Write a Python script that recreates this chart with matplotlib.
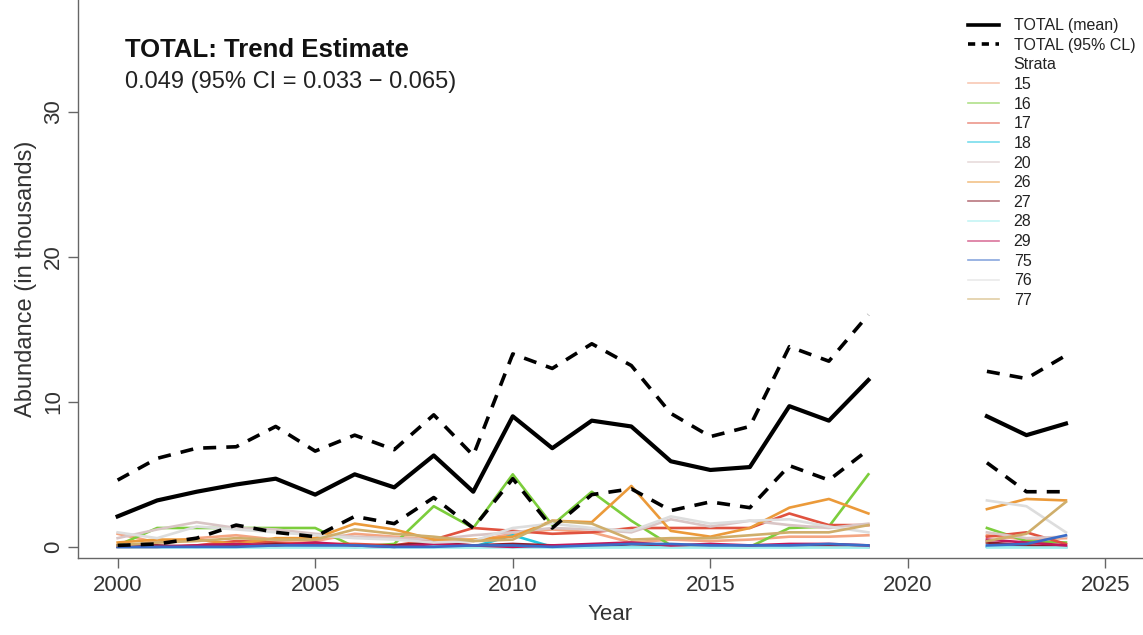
import numpy as np
import matplotlib
matplotlib.use("Agg")
import matplotlib.pyplot as plt
from matplotlib.lines import Line2D

plt.rcParams['font.family'] = ['Liberation Sans', 'DejaVu Sans']

nan = np.nan
years = list(range(2000, 2025))

# TOTAL abundance (thousands); no surveys in 2020-2021
total_mean = [2.1, 3.2, 3.8, 4.3, 4.7, 3.6, 5.0, 4.1, 6.3, 3.8, 9.0, 6.8, 8.7, 8.3, 5.9,
              5.3, 5.5, 9.7, 8.7, 11.5, nan, nan, 9.0, 7.7, 8.5]
total_upper = [4.6, 6.1, 6.8, 6.9, 8.3, 6.6, 7.7, 6.7, 9.1, 6.3, 13.3, 12.3, 14.0, 12.5, 9.2,
               7.6, 8.3, 13.8, 12.8, 16.0, nan, nan, 12.1, 11.6, 13.2]
total_lower = [0.1, 0.2, 0.6, 1.5, 1.0, 0.7, 2.1, 1.6, 3.4, 1.3, 4.7, 1.3, 3.6, 4.0, 2.5,
               3.1, 2.7, 5.6, 4.6, 6.7, nan, nan, 5.8, 3.8, 3.8]

strata_names = ['15', '16', '17', '18', '20', '26', '27', '28', '29', '75', '76', '77']
strata_colors = ['#F4A582', '#7CCD3C', '#E0523F', '#1FC7E0', '#D9C5C5', '#EB9A3A',
                 '#8B1C2B', '#9FEFEF', '#C2185B', '#3A6CC8', '#DDDDDD', '#CFAE6B']

s15 = [0.9, 0.3, 0.6, 0.8, 0.5, 0.4, 0.9, 0.7, 0.5, 0.4, 0.9, 1.2, 1.0, 0.3, 0.5,
       0.4, 0.5, 0.7, 0.7, 0.8, nan, nan, 0.8, 0.5, 0.6]
s16 = [0.1, 1.3, 1.3, 1.3, 1.3, 1.3, 0.0, 0.2, 2.8, 1.3, 5.0, 1.5, 3.8, 1.8, 0.1,
       0.0, 0.0, 1.3, 1.4, 5.0, nan, nan, 1.3, 0.4, 0.3]
s17 = [0.0, 0.0, 0.1, 0.4, 0.3, 0.2, 0.2, 0.1, 0.5, 1.3, 1.1, 0.9, 1.0, 1.3, 1.3,
       1.3, 1.3, 2.3, 1.5, 1.5, nan, nan, 0.7, 1.0, 0.2]
s18 = [0.0, 0.0, 0.0, 0.0, 0.0, 0.0, 0.0, 0.0, 0.0, 0.0, 0.8, 0.0, 0.0, 0.0, 0.0,
       0.0, 0.0, 0.0, 0.0, 0.0, nan, nan, 0.0, 0.0, 0.0]
s20 = [0.6, 1.2, 1.7, 1.3, 1.2, 0.9, 0.7, 0.6, 0.5, 0.8, 1.0, 1.3, 1.2, 1.0, 1.9,
       1.4, 1.8, 1.5, 1.3, 1.6, nan, nan, 1.0, 0.6, 0.7]
s26 = [0.3, 0.5, 0.5, 0.2, 0.6, 0.6, 1.6, 1.2, 0.5, 0.5, 0.7, 1.8, 1.7, 4.2, 1.1,
       0.7, 1.3, 2.7, 3.3, 2.3, nan, nan, 2.6, 3.3, 3.2]
s27 = [0.1, 0.1, 0.0, 0.1, 0.2, 0.1, 0.0, 0.1, 0.3, 0.1, 0.2, 0.1, 0.0, 0.2, 0.1,
       0.0, 0.1, 0.1, 0.1, 0.0, nan, nan, 0.3, 0.1, 0.0]
s28 = [0.0, 0.0, 0.0, 0.0, 0.0, 0.0, 0.0, 0.0, 0.0, 0.0, 0.0, 0.0, 0.0, 0.0, 0.0,
       0.0, 0.0, 0.0, 0.0, 0.0, nan, nan, 0.0, 0.0, 0.0]
s29 = [0.0, 0.0, 0.1, 0.2, 0.1, 0.3, 0.1, 0.0, 0.2, 0.1, 0.0, 0.1, 0.2, 0.3, 0.1,
       0.2, 0.1, 0.2, 0.2, 0.1, nan, nan, 0.5, 0.3, 0.1]
s75 = [0.0, 0.0, 0.0, 0.0, 0.1, 0.1, 0.1, 0.0, 0.0, 0.1, 0.1, 0.0, 0.1, 0.2, 0.2,
       0.1, 0.1, 0.1, 0.2, 0.1, nan, nan, 0.1, 0.2, 0.8]
s76 = [1.0, 0.6, 1.4, 1.2, 1.0, 0.8, 0.6, 0.5, 0.3, 0.4, 1.3, 1.6, 1.3, 1.1, 2.1,
       1.6, 1.8, 1.9, 1.4, 1.0, nan, nan, 3.2, 2.8, 1.0]
s77 = [0.1, 0.3, 0.4, 0.6, 0.5, 0.5, 1.2, 0.9, 0.7, 0.4, 0.5, 1.8, 1.6, 0.5, 0.6,
       0.6, 0.8, 1.0, 1.0, 1.5, nan, nan, 0.4, 0.9, 3.1]
strata_values = [s15, s16, s17, s18, s20, s26, s27, s28, s29, s75, s76, s77]

fig = plt.figure(figsize=(11.43, 6.35), dpi=100)
ax = fig.add_axes([0.068, 0.121, 0.932, 0.879])

for vals, col in zip(strata_values, strata_colors):
    ax.plot(years, vals, color=col, lw=1.9, zorder=2)

dash = (0, (3.6, 2.8))
ax.plot(years, total_upper, color='black', lw=2.6, ls=dash, zorder=3)
ax.plot(years, total_lower, color='black', lw=2.6, ls=dash, zorder=3)
ax.plot(years, total_mean, color='black', lw=3.0, zorder=4)

ax.set_xlim(1998.99, 2025.95)
ax.set_ylim(-0.78, 37.7)
ax.set_xticks([2000, 2005, 2010, 2015, 2020, 2025])
ax.set_yticks([0, 10, 20, 30])
for sp in ['top', 'right']:
    ax.spines[sp].set_visible(False)
for sp in ['left', 'bottom']:
    ax.spines[sp].set_color('#666666')
    ax.spines[sp].set_linewidth(1.0)
ax.tick_params(axis='both', direction='out', length=7, width=1.0, color='#666666',
               labelsize=16, labelcolor='#333333', pad=5)
ax.tick_params(axis='y', pad=3)
for lab in ax.get_yticklabels():
    lab.set_rotation(90)
    lab.set_va('center')

ax.set_xlabel('Year', fontsize=16, color='#333333', labelpad=6)
ax.set_ylabel('Abundance (in thousands)', fontsize=17, color='#333333', labelpad=4)

fig.text(125 / 1143, 1 - 50 / 635, 'TOTAL: Trend Estimate', fontsize=18.5,
         fontweight='bold', color='#111111', va='center', ha='left')
fig.text(125 / 1143, 1 - 82 / 635, '0.049 (95% CI = 0.033 \u2212 0.065)', fontsize=17,
         color='#222222', va='center', ha='left')

handles = [Line2D([], [], color='black', lw=2.6),
           Line2D([], [], color='black', lw=2.6, ls=(0, (2.0, 1.8))),
           Line2D([], [], color='none')]
labels = ['TOTAL (mean)', 'TOTAL (95% CL)', 'Strata']
for name, col in zip(strata_names, strata_colors):
    handles.append(Line2D([], [], color=col, lw=1.2, alpha=0.6))
    labels.append(name)

fig.legend(handles, labels, loc='upper left', bbox_to_anchor=(957 / 1143, 1 - 7 / 635),
           frameon=False, fontsize=11.5, handlelength=1.95, handletextpad=0.9,
           labelspacing=0.29, borderpad=0.2, labelcolor='#222222')

fig.savefig('out.png', dpi=100)
